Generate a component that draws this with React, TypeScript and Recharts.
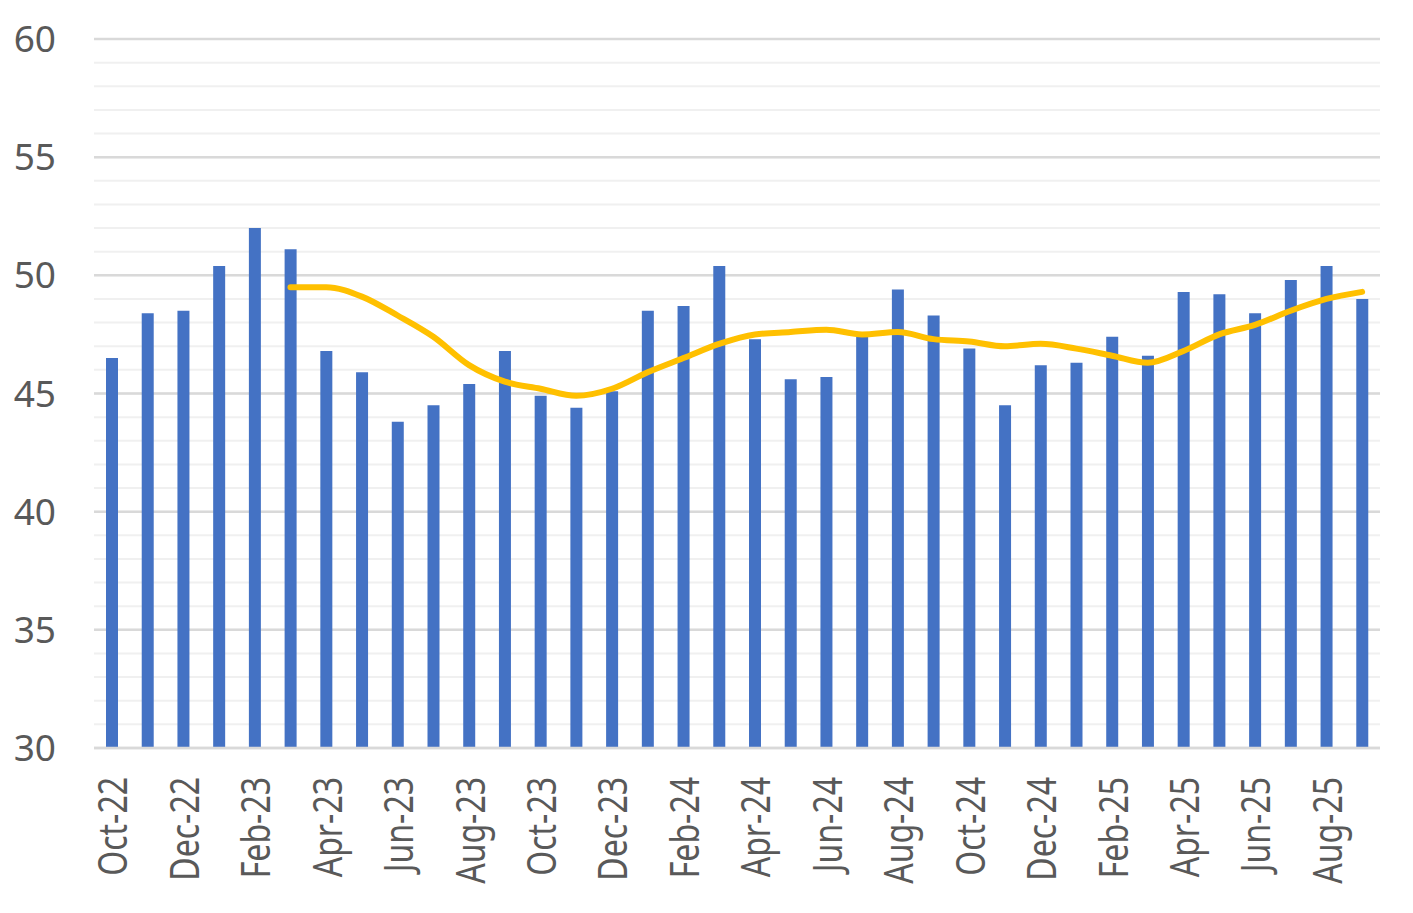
import { ComposedChart, Bar, Line, XAxis, YAxis, CartesianGrid } from 'recharts';

const months = [
  'Oct-22', 'Nov-22', 'Dec-22', 'Jan-23', 'Feb-23', 'Mar-23', 'Apr-23', 'May-23', 'Jun-23',
  'Jul-23', 'Aug-23', 'Sep-23', 'Oct-23', 'Nov-23', 'Dec-23', 'Jan-24', 'Feb-24', 'Mar-24',
  'Apr-24', 'May-24', 'Jun-24', 'Jul-24', 'Aug-24', 'Sep-24', 'Oct-24', 'Nov-24', 'Dec-24',
  'Jan-25', 'Feb-25', 'Mar-25', 'Apr-25', 'May-25', 'Jun-25', 'Jul-25', 'Aug-25', 'Sep-25',
];

const monthly = [
  46.5, 48.4, 48.5, 50.4, 52.0, 51.1, 46.8, 45.9, 43.8,
  44.5, 45.4, 46.8, 44.9, 44.4, 45.1, 48.5, 48.7, 50.4,
  47.3, 45.6, 45.7, 47.4, 49.4, 48.3, 46.9, 44.5, 46.2,
  46.3, 47.4, 46.6, 49.3, 49.2, 48.4, 49.8, 50.4, 49.0,
];

// moving average, starts in Mar-23
const average = [
  null, null, null, null, null, 49.5, 49.5, 49.1, 48.3,
  47.4, 46.2, 45.5, 45.2, 44.9, 45.2, 45.9, 46.5, 47.1,
  47.5, 47.6, 47.7, 47.5, 47.6, 47.3, 47.2, 47.0, 47.1,
  46.9, 46.6, 46.3, 46.8, 47.5, 47.9, 48.5, 49.0, 49.3,
];

const minorTicks = Array.from({ length: 31 }, (_, i) => 30 + i);
const majorTicks = [30, 35, 40, 45, 50, 55, 60];

const data = months.map((month, i) => ({ month, monthly: monthly[i], average: average[i] }));

const XTick = ({ x, y, payload }: any) => (
  <text
    transform={`translate(${x},${y}) rotate(-90) scale(0.8,1)`}
    textAnchor="end"
    dominantBaseline="central"
    fontSize={40}
    fontFamily="Noto Sans"
    fill="#595959"
  >
    {payload.value}
  </text>
);

export default function App() {
  return (
    <div style={{ position: 'absolute', left: 0, top: 0, background: '#fff' }}>
      <ComposedChart
        width={1413}
        height={913}
        data={data}
        margin={{ top: 39, right: 33, left: 0, bottom: 0 }}
      >
        <CartesianGrid vertical={false} horizontalValues={minorTicks} stroke="#F0F0F0" strokeWidth={2} />
        <CartesianGrid vertical={false} horizontalValues={majorTicks} stroke="#D9D9D9" strokeWidth={2.5} />
        <XAxis
          dataKey="month"
          interval={1}
          height={165}
          tickLine={false}
          tickSize={0}
          tickMargin={29}
          axisLine={{ stroke: '#D9D9D9', strokeWidth: 2.5 }}
          tick={<XTick />}
        />
        <YAxis
          domain={[30, 60]}
          ticks={majorTicks}
          width={94}
          axisLine={false}
          tickLine={false}
          tickSize={0}
          tickMargin={38}
          tick={{ fontSize: 37, fontFamily: 'Noto Sans', fill: '#595959' }}
        />
        <Bar dataKey="monthly" fill="#4472C4" barSize={12} isAnimationActive={false} />
        <Line
          dataKey="average"
          type="monotone"
          stroke="#FFC000"
          strokeWidth={6}
          strokeLinecap="round"
          dot={false}
          isAnimationActive={false}
        />
      </ComposedChart>
    </div>
  );
}
